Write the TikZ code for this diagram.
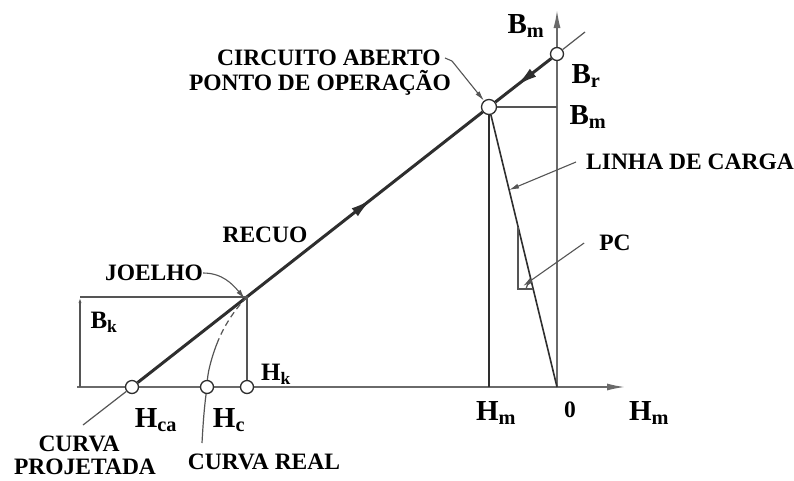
\documentclass[tikz,border=0pt]{standalone}
\usepackage{fontspec}
\setmainfont{Liberation Serif}
\usetikzlibrary{arrows.meta,positioning,decorations.markings}
\definecolor{ink}{HTML}{2E2E2E}
\definecolor{guide}{HTML}{555555}
\definecolor{axisg}{HTML}{6A6A6A}

\begin{document}
\begin{tikzpicture}[x=1pt,y=-1pt,
  pt/.style={circle, draw=ink, fill=white, line width=1.3pt, inner sep=0pt, minimum size=13pt},
  lbl/.style={font=\fontsize{23.5}{25}\selectfont\bfseries, inner sep=0pt},
  sym/.style={font=\fontsize{29}{30}\selectfont\bfseries, inner sep=0pt},
  symsm/.style={font=\fontsize{25}{26}\selectfont\bfseries, inner sep=0pt},
  axisline/.style={draw=axisg, line width=1.6pt, -{Latex[length=18pt,width=7pt]}},
  recoil/.style={draw=ink, line width=3pt},
  thinline/.style={draw=ink, line width=1.6pt},
  helper/.style={draw=guide, line width=1.2pt},
  leader/.style={draw=guide, line width=1.1pt, -{Latex[length=10pt,width=5pt]}},
  fwd/.style={postaction={decorate}, decoration={markings, mark=at position #1 with {\arrow{Latex[length=22pt,width=10pt]}}}},
  bwd/.style={postaction={decorate}, decoration={markings, mark=at position #1 with {\arrowreversed{Latex[length=22pt,width=10pt]}}}},
]
\fill[white] (0,0) rectangle (794,480);

% axes
\coordinate (O) at (557,387);
\coordinate (hstart) at (77,387);
\coordinate (hend) at (625,387);
\coordinate (vend) at (557,10);
\draw[axisline] (hstart) -- (hend);
\draw[axisline] (O) -- (vend);

% points on the curve
\node[pt] (Br) at (557,54) {};
\node[pt, minimum size=15pt] (OP) at (489,107) {};
\node[pt] (Hca) at (132,387) {};
\node[pt] (Hc) at (207,387) {};
\node[pt] (Hk) at (247,387) {};
\coordinate (knee) at (247,297);
\coordinate (tail) at (83,425);
\coordinate (tip) at (585,32);
\coordinate (crv) at (218,341);
\coordinate (crvend) at (202,443);
\coordinate (Hmx) at (489,387);
\coordinate (Bmy) at (557,107);
\coordinate (bkbase) at (80,387);
\coordinate (bktop) at (80,297);

% recoil line
\draw[helper] (tail) -- (Hca);
\draw[recoil, fwd=0.68] (Hca) -- (OP);
\draw[recoil, bwd=0.36] (OP) -- (Br);
\draw[helper] (Br) -- (tip);

% operating point and load line
\draw[thinline] (OP) -- (Hmx);
\draw[helper] (OP) -- (Bmy);
\draw[thinline] (OP) -- (O);

% permeance triangle
\coordinate (pcA) at (518,227);
\coordinate (pcB) at (518,289);
\coordinate (pcC) at (533,289);
\draw[helper] (pcA) -- (pcB) -- (pcC);
\draw[helper] (pcC) ++(180:7) arc[start angle=180, end angle=256, radius=7];

% knee box
\draw[helper, -{Latex[length=6pt,width=3pt]}] (bkbase) -- (bktop);
\draw[helper] (bktop) -- (knee) -- (Hk);

% real curve
\draw[helper, dash pattern=on 6pt off 4pt] (knee) .. controls (236,308) and (225,324) .. (crv);
\draw[helper] (crv) .. controls (213,353) and (208,370) .. (Hc);
\draw[helper] (Hc) .. controls (204,410) and (203,425) .. (crvend);

% labels
\node[lbl] (openLbl) at (329,58) {CIRCUITO ABERTO};
\node[lbl] (opLbl) at (320,83) {PONTO DE OPERAÇÃO};
\node[lbl] (kneeLbl) at (154,273) {JOELHO};
\node[lbl] (recLbl) at (265,235) {RECUO};
\node[lbl] (loadLbl) at (690,162) {LINHA DE CARGA};
\node[lbl] (pcLbl) at (615,243) {PC};
\node[lbl] (zeroLbl) at (570,410) {0};
\node[lbl] (projLbl) at (79,444) {CURVA};
\node[lbl] (projLbl2) at (85,467) {PROJETADA};
\node[lbl] (realLbl) at (264,462) {CURVA REAL};

\node[sym] (BmTop) at (526,26) {B\textsubscript{m}};
\node[sym] (BrLbl) at (586,76) {B\textsubscript{r}};
\node[sym] (BmLbl) at (588,117) {B\textsubscript{m}};
\node[sym] (HmLbl) at (496,413) {H\textsubscript{m}};
\node[sym] (HmAxis) at (649,413) {H\textsubscript{m}};
\node[sym] (HcaLbl) at (156,420) {H\textsubscript{ca}};
\node[sym] (HcLbl) at (229,420) {H\textsubscript{c}};
\node[symsm] (HkLbl) at (276,374) {H\textsubscript{k}};
\node[symsm] (BkLbl) at (104,322) {B\textsubscript{k}};

% leaders
\coordinate (loadpt) at (509,190);
\coordinate (pcpt) at (523,286);
\draw[leader] ([xshift=4pt]openLbl.east) -- ++(7,3) -- (OP);
\draw[leader] (kneeLbl.east) to[out=0, in=130] ([xshift=-2pt,yshift=-2pt]knee);
\draw[leader] ([xshift=-10pt]loadLbl.west) -- (loadpt);
\draw[leader] ([xshift=-15pt]pcLbl.west) -- (pcpt);
\end{tikzpicture}
\end{document}
